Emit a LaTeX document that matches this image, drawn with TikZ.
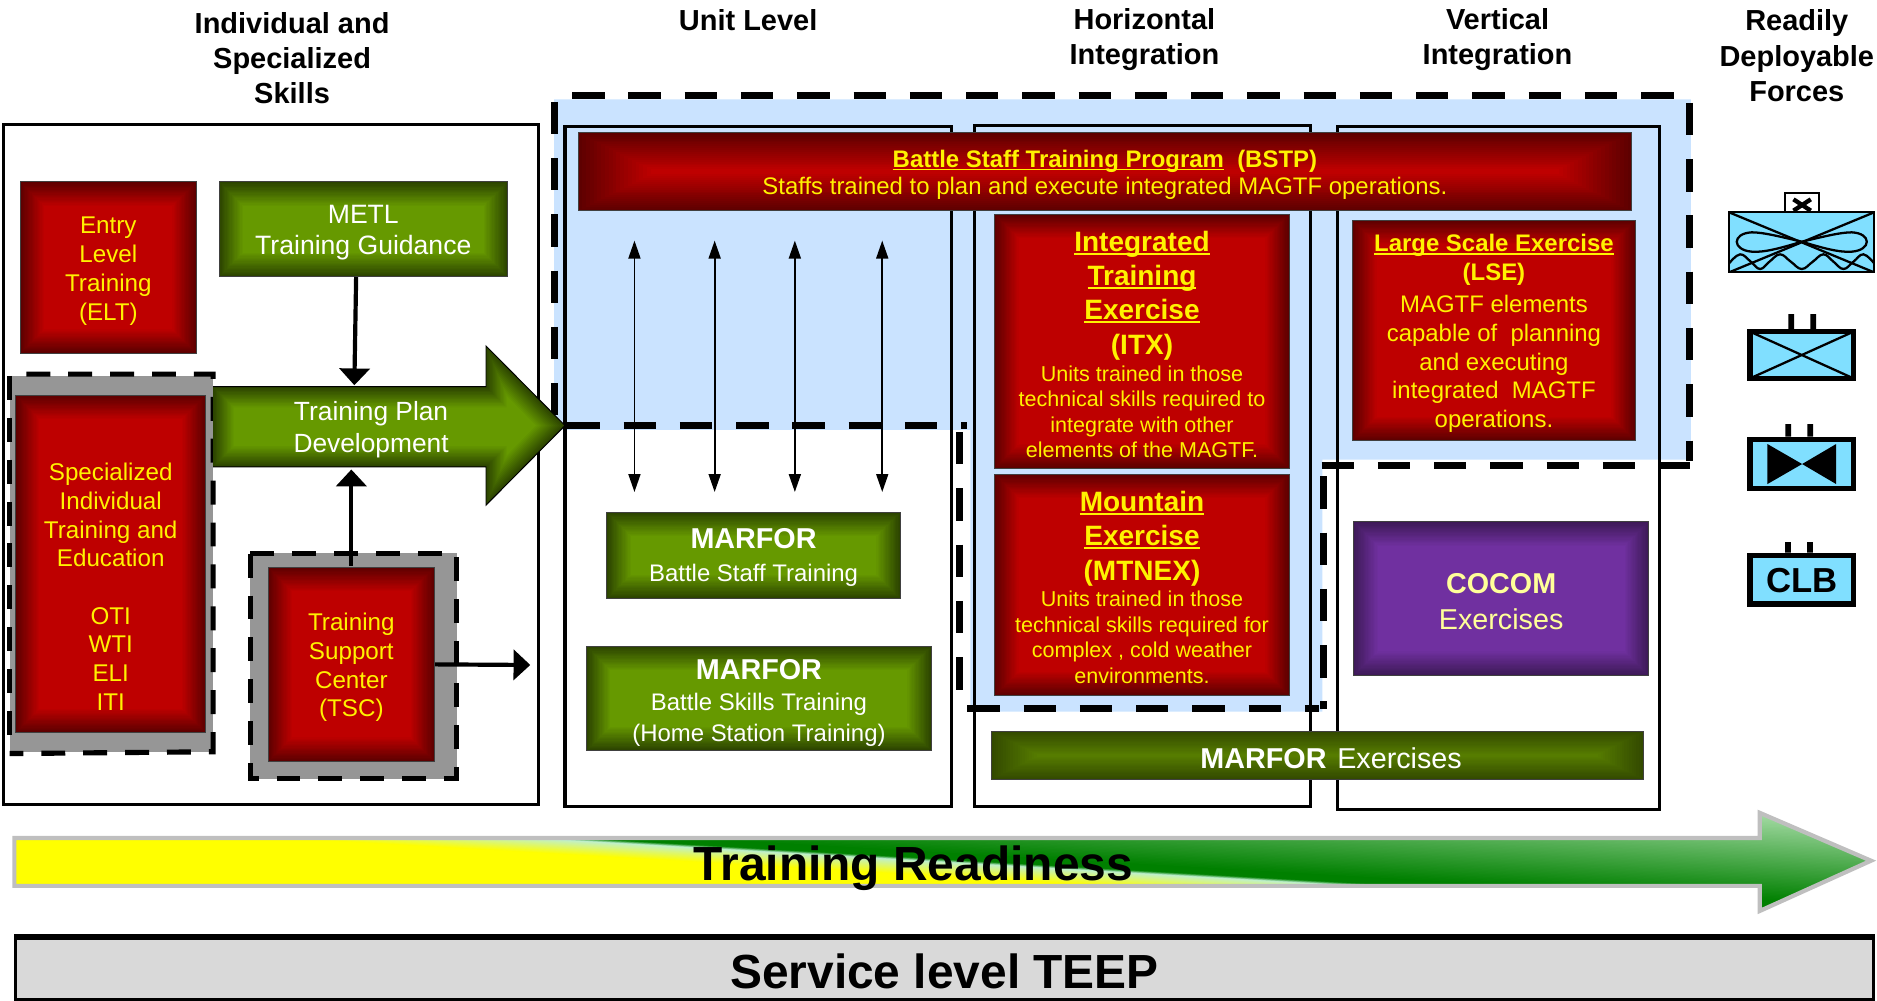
\documentclass[tikz,border=0pt]{standalone}
\usepackage{fontspec}
\setmainfont{Liberation Sans}
\usetikzlibrary{calc,arrows.meta}
\definecolor{blueg}{HTML}{CAE3FF}
\definecolor{redin}{HTML}{BE0000}
\definecolor{redout}{HTML}{5E0000}
\definecolor{grin}{HTML}{669900}
\definecolor{grout}{HTML}{2C4400}
\definecolor{gr2in}{HTML}{567C00}
\definecolor{gr2out}{HTML}{334A00}
\definecolor{puin}{HTML}{7030A0}
\definecolor{puout}{HTML}{3E1A58}
\definecolor{symb}{HTML}{80DFFF}
\definecolor{pale}{HTML}{FFFF99}
\definecolor{paleband}{HTML}{BFF0D0}
\definecolor{greenb}{HTML}{008000}
\definecolor{greenl}{HTML}{A8DDA8}
\definecolor{yelb}{HTML}{FFFF00}
\newsavebox\ulb
\newcommand\ulbox[1]{\sbox\ulb{#1}\rlap{\rule[-2.6pt]{\wd\ulb}{1.5pt}}\usebox\ulb}
\newcommand\fs[2]{\fontsize{#1}{#2}\selectfont}
\newcommand\ttl[1]{\rule[-8pt]{0pt}{28.5pt}\bfseries\fs{23.4}{0}#1}
\newcommand\bdy[1]{\rule[-6pt]{0pt}{21.3pt}\mdseries\fs{18}{0}#1}
\newcommand\lt[1]{\bfseries\fs{20}{23}#1}
\newcommand\lb[1]{\mdseries\fs{20}{24}#1}
\newcommand\tp{\rule{0pt}{\dimexpr\fontcharht\font`T+6pt\relax}}
\newcommand\bx[7]{%
  \pgfmathsetmacro\bxcx{(#3+#5)/2}\pgfmathsetmacro\bxcy{(#4+#6)/2}%
  \pgfmathsetmacro\bxw{#5-#3}\pgfmathsetmacro\bxh{#6-#4}%
  \node[#1,minimum width=\bxw pt,minimum height=\bxh pt] (#2) at (\bxcx,\bxcy) {\tp #7};}
\tikzset{
  x=1pt,y=-1pt,
  gradbox/.style n args={4}{inner sep=0pt,align=center,draw=black!75,line width=.8pt,
    path picture={
      \foreach \i in {0,...,19}{
        \pgfmathsetmacro\p{\i/19*100}
        \fill[#1!\p!#2] ($(path picture bounding box.south west)+(\i*#3,-\i*#4)$)
          rectangle ($(path picture bounding box.north east)+(-\i*#3,\i*#4)$);
      }}},
  redbox/.style={gradbox={redin}{redout}{1.05}{1.05},text=yellow,font=\fs{20.2}{24}},
  widered/.style={gradbox={redin}{redout}{3.2}{1.6},text=yellow},
  stacked/.style={redbox,font={\fs{18}{0}\lineskip=0pt\lineskiplimit=0pt}},
  greenbox/.style={gradbox={grin}{grout}{1.05}{1.05},text=white,font=\fs{22.2}{26}},
  purplebox/.style={gradbox={puin}{puout}{1.05}{1.05},text=pale},
  frame/.style={draw=black,line width=2.6pt,inner sep=0pt},
  graybox/.style={fill=black!41,inner sep=0pt},
  head/.style={font=\bfseries\fs{24.2}{29.3},align=center,text=black,inner sep=0pt},
  bigdash/.style={draw=black,line width=5.8pt,dash pattern=on 27pt off 20pt},
  smalldash/.style={draw=black,line width=4.3pt,dash pattern=on 20pt off 15pt},
  flow/.style={draw=black,line width=3.5pt,-{Triangle[length=14pt,width=25pt]}},
  both/.style={draw=black,line width=1.5pt,{Triangle[length=15pt,width=10pt]}-{Triangle[length=15pt,width=10pt]}},
  symline/.style={draw=black,line width=1.9pt},
  symbol/.style={shift={(1403.5,142)},x=.2785pt,y=-.2785pt},
}
\begin{document}
\begin{tikzpicture}
\useasboundingbox (0,0) rectangle (1568,836.2);
% headers
\node[head] (h1) at (244,48.5) {Individual and\\Specialized\\Skills};
\node[head] (h2) at (625,17) {Unit Level};
\node[head] (h3) at (956,33) {Horizontal\\Integration};
\node[head] (h4) at (1251,33) {Vertical\\Integration};
\node[head] (h5) at (1501,46.5) {Readily\\Deployable\\Forces};
% blue region
\fill[blueg] (463,83) -- (1412.5,83) -- (1412.5,384) -- (1104.7,384) -- (1104.7,594.5)
  -- (810.6,594.5) -- (810.6,359) -- (463,359) -- cycle;
% frames
\bx{frame}{indiv}{3}{104}{450}{672}{}
\bx{frame}{unit}{472}{106}{795}{674}{}
\bx{frame}{horiz}{814}{105}{1095}{674}{}
\bx{frame}{vert}{1117}{106}{1386}{676}{}
% dashed outline
\draw[bigdash] (478,79.5) -- (1412,79.5);
\draw[bigdash] (463,85) -- (463,355);
\draw[bigdash] (1411,86) -- (1411,385);
\draw[bigdash] (474,355.5) -- (808,355.5);
\draw[bigdash] (801.5,361) -- (801.5,592);
\draw[bigdash] (808,591.5) -- (1102,591.5);
\draw[bigdash] (1105.5,398) -- (1105.5,592);
\draw[bigdash] (1104,388.5) -- (1412,388.5);
% left column
\bx{redbox}{elt}{17}{152}{164}{295}{Entry\\Level\\Training\\(ELT)}
\bx{greenbox}{metl}{183}{152}{424}{231}{METL\\Training Guidance}
\bx{graybox}{sitegray}{8}{314}{178}{628}{}
\draw[smalldash] (22,312.5) -- (178,312.5) -- (178,628) -- (8,629.5);
\draw[smalldash] (8,314) -- (8,628);
\bx{redbox}{site}{13}{330}{172}{612}{~\\[9pt]Specialized\\Individual\\Training and\\Education\\[24pt]OTI\\WTI\\ELI\\ITI}
\bx{graybox}{tscgray}{209}{462}{382}{651}{}
\draw[smalldash] (209,462.5) rectangle (381,650.5);
\bx{redbox}{tsc}{224}{474}{363}{636}{Training\\Support\\Center\\(TSC)}
% training plan arrow
\foreach \i in {0,...,15}{
  \pgfmathsetmacro\p{\i/15*100}
  \pgfmathsetmacro\d{\i*1.15}
  \fill[grin!\p!grout] ({178+\d},{323+\d}) -- ({406+\d},{323+\d}) -- ({406+\d},{289+2.41*\d})
    -- ({472-1.414*\d},355.5) -- ({406+\d},{422-2.41*\d}) -- ({406+\d},{390-\d}) -- ({178+\d},{390-\d}) -- cycle;
}
\draw[black,line width=.8pt,line join=miter] (178,323) -- (406,323) -- (406,289) -- (472,355.5)
  -- (406,422) -- (406,390) -- (178,390);
\bx{text=white,font=\fs{22}{27},align=center,inner sep=0pt}{plan}{178}{323}{442}{390}{Training Plan\\Development}
% connectors on the left
\draw[flow] ($(metl.south)+(-6,0)$) -- ($(plan.north)+(-14,-1)$);
\draw[flow] (tsc.north |- tscgray.north) ++(0,11) -- ($(plan.south)+(-16.5,2)$);
\coordinate (tscend) at (443,555.5);
\draw[flow] (tsc.east) -- (tscend);
% unit level
\bx{greenbox,font=\fs{20}{28}}{bst}{507}{428}{752}{500}{{\bfseries\fs{24}{28}MARFOR}\\Battle Staff Training}
\bx{greenbox,font=\fs{20}{25.5}}{bsk}{490}{540}{778}{627}{\rule{0pt}{24pt}{\bfseries\fs{24}{27}MARFOR}\\[1pt]Battle Skills Training\\(Home Station Training)}
\foreach \n/\xx in {1/530,2/597,3/664,4/737}{
  \coordinate (up\n) at (\xx,201);
  \coordinate (dn\n) at (\xx,411);
  \draw[both] (up\n) -- (dn\n);
}
% red exercises
\bx{widered,font=\fs{20}{23}}{bstp}{483}{111}{1363}{176}{{\bfseries\ulbox{Battle Staff Training Program}\ \ (BSTP)}\\Staffs trained to plan and execute integrated MAGTF operations.}
\bx{stacked}{itx}{831}{179}{1077}{391}{\rule{0pt}{28.5pt}\ttl{\ulbox{Integrated}}\\\ttl{\ulbox{Training}}\\\ttl{\ulbox{Exercise}}\\\ttl{(ITX)}\\[-0.8pt]\bdy{Units trained in those}\\\bdy{technical skills required to}\\\bdy{integrate with other}\\\bdy{elements of the MAGTF.}}
\bx{stacked}{mtnex}{831}{396}{1077}{581}{\rule{0pt}{27.5pt}\ttl{\ulbox{Mountain}}\\\ttl{\ulbox{Exercise}}\\\ttl{(MTNEX)}\\[-0.8pt]\bdy{Units trained in those}\\\bdy{technical skills required for}\\\bdy{complex , cold weather}\\\bdy{environments.}}
\bx{redbox,font=\fs{20}{24}}{lse}{1130}{184}{1366}{368}{\lt{\ulbox{Large Scale Exercise}}\\\lt{(LSE)}\\[3pt]\lb{MAGTF elements}\\\lb{capable of\ \ planning}\\\lb{and executing}\\\lb{integrated\ \ MAGTF}\\\lb{operations.}}
\bx{purplebox,font=\fs{24}{30}}{cocom}{1131}{436}{1377}{564}{\bfseries COCOM\\\mdseries Exercises}
\bx{gradbox={gr2in}{gr2out}{2}{1},text=white,font=\fs{24}{27}}{mfex}{828}{611}{1373}{651}{\hspace*{23pt}\bfseries MARFOR\mdseries\hspace{9pt}Exercises}
% readiness arrow
\begin{scope}
  \clip (12,700) -- (1470,700) -- (1470,679) -- (1563,719) -- (1470,761) -- (1470,740) -- (12,740) -- cycle;
  \fill[yelb] (-10,660) rectangle (1600,780);
  \foreach \s in {230,240,...,440}{
    \pgfmathsetmacro\p{(\s-230)/210*100}
    \fill[paleband!\p!yelb] ({\s-690},660) -- ({\s+1380},780) -- (3000,780) -- (3000,660) -- cycle;
  }
  \foreach \s in {440,444,...,480}{
    \pgfmathsetmacro\p{(\s-440)/40*100}
    \fill[greenb!\p!paleband] ({\s-690},660) -- ({\s+1380},780) -- (3000,780) -- (3000,660) -- cycle;
  }
  \foreach \s in {560,580,...,1840}{
    \pgfmathsetmacro\p{(\s-560)/1280*100}
    \fill[greenl!\p!greenb] ({\s-690},660) -- ({\s+1380},780) -- (3000,780) -- (3000,660) -- cycle;
  }
\end{scope}
\draw[draw=black!25,line width=3.5pt] (12,700) -- (1470,700) -- (1470,679) -- (1563,719) -- (1470,761) -- (1470,740) -- (12,740) -- cycle;
\node[font=\bfseries\fs{40}{44},text=black,inner sep=0pt] (ready) at (763,725) {Training Readiness};
% TEEP
\bx{fill=black!15,draw=black,line width=2.6pt,font=\bfseries\fs{40}{44},inner sep=0pt}{teep}{13}{784}{1565}{835}{Service level TEEP}
\draw[black,line width=4.5pt] (teep.north west) -- (teep.north east);
% symbols
\begin{scope}[symbol]
  \fill[white] (315,70) rectangle (417,127);
  \draw[symline] (315,127) -- (315,70) -- (417,70) -- (417,127);
  \draw[black,line width=3.6pt] (340,88) -- (392,122) (392,88) -- (340,122);
  \fill[symb] (147,127) rectangle (582,307);
  \begin{scope}
    \clip (147,127) rectangle (582,307);
    \draw[symline] (147,127) -- (582,307) (582,127) -- (147,307);
    \draw[symline] (365,215) .. controls (300,235) and (250,248) .. (215,245)
       .. controls (155,240) and (155,190) .. (215,187) .. controls (250,187) and (300,200) .. (365,215)
       .. controls (430,235) and (480,248) .. (515,245)
       .. controls (575,240) and (575,190) .. (515,187) .. controls (480,187) and (430,200) .. (365,215);
    \draw[symline] plot[smooth,tension=.7] coordinates {(147,280)(180,253)(212,275)(240,297)(268,275)(300,253)(332,275)(365,297)(398,275)(430,253)(460,275)(490,297)(520,275)(550,253)(582,280)};
  \end{scope}
  \draw[symline] (147,127) rectangle (582,307);
  % second
  \fill[black] (325,432) rectangle (342,477) (391,432) rectangle (408,477);
  \draw[fill=symb,draw=black,line width=4.7pt] (210,485) rectangle (520,625);
  \draw[symline] (210,485) -- (520,625) (520,485) -- (210,625);
  % third
  \fill[black] (316,762) rectangle (333,800) (382,762) rectangle (399,800);
  \draw[fill=symb,draw=black,line width=4.7pt] (210,808) rectangle (520,955);
  \fill[black] (262,822) -- (366,882) -- (468,822) -- (468,942) -- (366,882) -- (262,942) -- cycle;
  % fourth
  \fill[black] (315,1116) rectangle (332,1148) (381,1116) rectangle (398,1148);
  \draw[fill=symb,draw=black,line width=4.7pt] (210,1156) rectangle (520,1302);
  \node[font=\bfseries\fs{29}{32},text=black,inner sep=0pt] (clb) at (365,1230) {CLB};
\end{scope}
\end{tikzpicture}
\end{document}
